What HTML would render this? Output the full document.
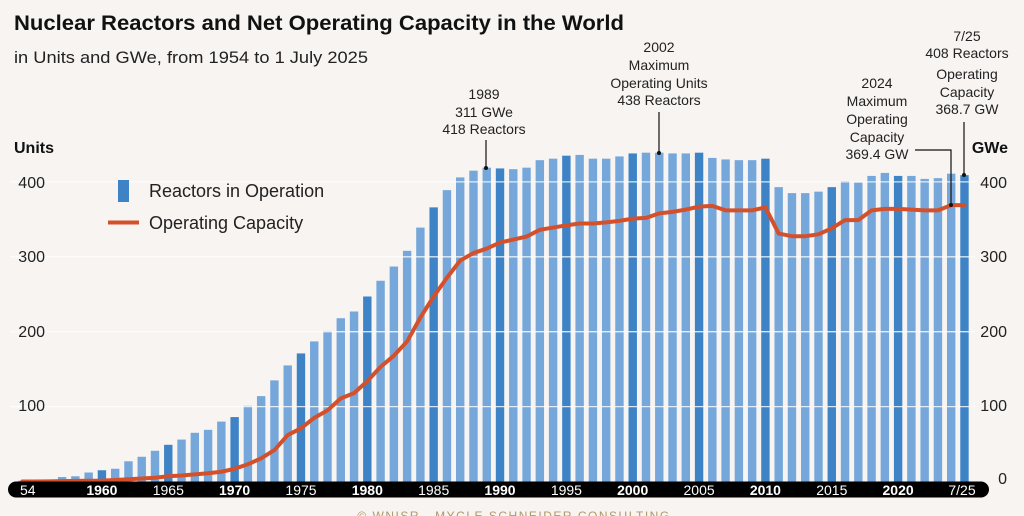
<!DOCTYPE html>
<html><head><meta charset="utf-8"><style>
html,body{margin:0;padding:0;background:#f7f4f2;}
svg{display:block;font-family:"Liberation Sans",sans-serif;}
</style></head><body>
<svg id="c" width="1024" height="516" viewBox="0 0 1024 516" xmlns="http://www.w3.org/2000/svg">
<rect width="1024" height="516" fill="#f7f4f2"/>
<text x="14" y="30" font-size="21" font-weight="bold" fill="#111" textLength="610" lengthAdjust="spacingAndGlyphs">Nuclear Reactors and Net Operating Capacity in the World</text>
<text x="14" y="63" font-size="17" fill="#222" textLength="354" lengthAdjust="spacingAndGlyphs">in Units and GWe, from 1954 to 1 July 2025</text>
<text x="14" y="153" font-size="16" font-weight="bold" fill="#111">Units</text>
<text x="1008" y="153" font-size="16" font-weight="bold" fill="#111" text-anchor="end">GWe</text>
<g id="bars"></g>
<g id="grid"></g>
<polyline id="cap" fill="none" stroke="#d4502b" stroke-width="4" stroke-linejoin="round" stroke-linecap="round"/>
<rect x="8" y="481.5" width="981" height="16" rx="8" fill="#000"/>
<g id="xl" font-size="14" fill="#fff" text-anchor="middle"></g>
<g font-size="16" fill="#222" text-anchor="end">
<text x="45" y="188">400</text><text x="45" y="262">300</text><text x="45" y="337">200</text><text x="45" y="411">100</text>
<text x="1007" y="188">400</text><text x="1007" y="262">300</text><text x="1007" y="337">200</text><text x="1007" y="411">100</text><text x="1007" y="484">0</text>
</g>
<rect x="118" y="180" width="11" height="22" fill="#3d83c6"/>
<text x="149" y="197" font-size="18" fill="#222">Reactors in Operation</text>
<line x1="108" y1="222.5" x2="139" y2="222.5" stroke="#d4502b" stroke-width="4"/>
<text x="149" y="229" font-size="18" fill="#222">Operating Capacity</text>
<g font-size="14" fill="#222" text-anchor="middle">
<text x="484" y="99">1989</text><text x="484" y="117">311 GWe</text><text x="484" y="134">418 Reactors</text>
<text x="659" y="52">2002</text><text x="659" y="70">Maximum</text><text x="659" y="88">Operating Units</text><text x="659" y="105">438 Reactors</text>
<text x="877" y="88">2024</text><text x="877" y="106">Maximum</text><text x="877" y="124">Operating</text><text x="877" y="142">Capacity</text><text x="877" y="159">369.4 GW</text>
<text x="967" y="41">7/25</text><text x="967" y="58">408 Reactors</text><text x="967" y="79">Operating</text><text x="967" y="97">Capacity</text><text x="967" y="114">368.7 GW</text>
</g>
<g stroke="#111" stroke-width="1.2" fill="none">
<line x1="486" y1="140" x2="486" y2="168"/>
<line x1="659" y1="112" x2="659" y2="153"/>
<polyline points="915,150 951,150 951,205"/>
<line x1="964" y1="122" x2="964" y2="175"/>
</g>
<g fill="#111"><circle cx="486" cy="168" r="2"/><circle cx="659" cy="153" r="2"/><circle cx="951" cy="205" r="2"/><circle cx="964" cy="175" r="2"/></g>
<text x="514" y="520" font-size="12" fill="#b09868" text-anchor="middle" letter-spacing="1.5">© WNISR - MYCLE SCHNEIDER CONSULTING</text>
</svg>
<script>
var units=[1,1,1,6,7,12,15,17,27,33,41,49,56,65,69,80,86,101,114,135,155,171,187,201,218,227,247,268,287,308,339,366,389,406,415,419,418,417,419,429,431,435,436,431,431,434,438,439,439,438,438,439,432,430,429,429,431,393,385,385,387,393,401,399,408,412,408,408,404,405,411,409];
var cap=[0,0,0.1,0.5,0.8,1,1.2,2,3,4,5,7,8,9.5,11,13,17,23,31,42,62,71,85,95,111,118,134,153,168,187,219,247,272,295,305,311,319,323,327,336,339,342,344.5,344.5,346,348,351,352,358,360,363,367,368,362,362,362,366,331,327.5,327.5,330,338,349,349,362,364,364,363,362,362,369,369];
var B=481.5,S=0.749;
function X(i){return 22.3+13.27*i;}
var g=document.getElementById('bars'),h='';
for(var i=0;i<units.length;i++){var yr=1954+i;var d=(yr%5==0);var hh=units[i]*S;
h+='<rect x="'+(X(i)-4.2).toFixed(2)+'" y="'+(B-hh).toFixed(2)+'" width="8.4" height="'+hh.toFixed(2)+'" fill="'+(d?'#3d83c6':'#76a7da')+'"/>';}
g.innerHTML=h;
var gr='';[100,200,300,400].forEach(function(v){var y=B-v*S;gr+='<line x1="10" x2="975" y1="'+y+'" y2="'+y+'" stroke="#fff" stroke-width="1.3" opacity="0.8"/>';});
document.getElementById('grid').innerHTML=gr;
var p=[];for(var i=0;i<cap.length;i++)p.push(X(i).toFixed(2)+','+(B-cap[i]*S).toFixed(2));
document.getElementById('cap').setAttribute('points',p.join(' '));
var xl='<text x="20" y="495" text-anchor="start">54</text>';
for(var yr=1960;yr<=2020;yr+=5){var b=(yr%10==0);xl+='<text x="'+X(yr-1954).toFixed(1)+'" y="495"'+(b?' font-weight="bold"':'')+'>'+yr+'</text>';}
xl+='<text x="962" y="495">7/25</text>';
document.getElementById('xl').innerHTML=xl;
</script>
</body></html>
